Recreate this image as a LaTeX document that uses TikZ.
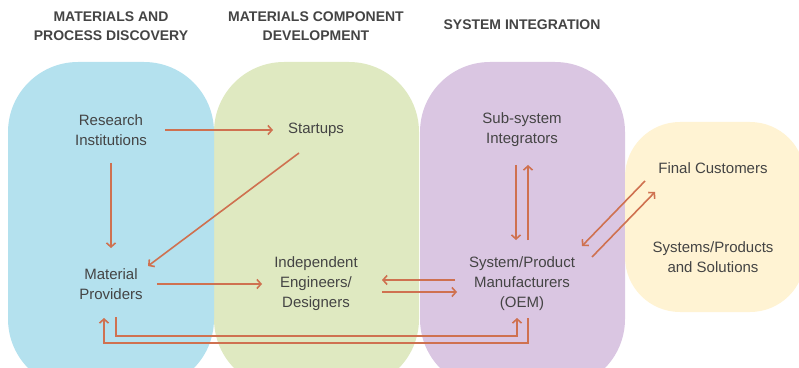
\documentclass[tikz,border=0pt]{standalone}
\usepackage{fontspec}
\setmainfont{Liberation Sans}
\usetikzlibrary{positioning,arrows.meta}
\definecolor{flowc}{HTML}{CF7150}
\definecolor{txtc}{HTML}{444444}
\definecolor{bluec}{HTML}{B4E1EE}
\definecolor{greenc}{HTML}{DFE9C1}
\definecolor{purplec}{HTML}{DAC6E2}
\definecolor{yellowc}{HTML}{FFF3D3}
\tikzset{ actor/.style={align=center,text=txtc,font=\fontsize{15}{20}\selectfont},
  phase/.style={align=center,text=txtc,font=\fontsize{14}{19}\selectfont\bfseries},
  blob/.style={rounded corners=70pt},
  flow/.style={draw=flowc,line width=1.6pt,-{Straight Barb[length=4pt,width=9pt]}} }

\begin{document}
\begin{tikzpicture}[x=1pt,y=1pt,on grid]
   \useasboundingbox (0,0) rectangle (799,367);
   \clip (0,0) rectangle (799,367);
   % stages
   \fill[greenc,blob] (214,-22) rectangle (419,305);
   \fill[bluec,blob] (8,-22) rectangle (214,305);
   \fill[purplec,blob] (420,-22) rectangle (625,305);
   \fill[yellowc,rounded corners=55pt] (625,55) rectangle (805,245);
   % actors
   \node[actor] (res) at (111,237) {Research\\Institutions};
   \node[actor,right=205pt of res] (start) {Startups};
   \node[actor,right=206pt of start] (sub) {Sub-system\\Integrators};
   \node[actor,below=154pt of res] (mat) {Material\\Providers};
   \node[actor,right=205pt of mat] (eng) {Independent\\Engineers/\\Designers};
   \node[actor,right=206pt of eng] (oem) {System/Product\\Manufacturers\\(OEM)};
   \node[actor,below right=38pt and 191pt of sub] (cust) {Final Customers};
   \node[actor,below=89pt of cust] (sol) {Systems/Products\\and Solutions};
   \node[phase,above=104pt of res] (p1) {MATERIALS AND\\PROCESS DISCOVERY};
   \node[phase,above=104pt of start] (p2) {MATERIALS COMPONENT\\DEVELOPMENT};
   \node[phase,above=105pt of sub] (p3) {SYSTEM INTEGRATION};
   % flows
   \draw[flow] ([xshift=54pt]res.center) -- ([shift={(-43pt,0pt)}]start.center);
   \draw[flow] ([yshift=-33pt]res.center) -- ([yshift=36pt]mat.center);
   \draw[flow] ([shift={(-17pt,-23pt)}]start.center) -- ([shift={(37pt,18pt)}]mat.center);
   \draw[flow] ([xshift=46pt]mat.center) -- ([xshift=-54pt]eng.center);
   \draw[flow] ([shift={(-67pt,4pt)}]oem.center) -- ([shift={(66pt,4pt)}]eng.center);
   \draw[flow] ([shift={(66pt,-8pt)}]eng.center) -- ([shift={(-65pt,-8pt)}]oem.center);
   \draw[flow] ([shift={(-6pt,-35pt)}]sub.center) -- ([shift={(-6pt,44pt)}]oem.center);
   \draw[flow] ([shift={(6pt,44pt)}]oem.center) -- ([shift={(6pt,-35pt)}]sub.center);
   \draw[flow] ([shift={(-68pt,-13pt)}]cust.center) -- ([shift={(60pt,38pt)}]oem.center);
   \draw[flow] ([shift={(70pt,27pt)}]oem.center) -- ([shift={(-58pt,-24pt)}]cust.center);
   \draw[flow] ([shift={(5pt,-33pt)}]mat.center) -- ++(0,-19pt) -| ([shift={(-5pt,-34pt)}]oem.center);
   \draw[flow] ([shift={(6pt,-34pt)}]oem.center) -- ++(0,-25pt) -| ([shift={(-7pt,-34pt)}]mat.center);
  \end{tikzpicture}
\end{document}
